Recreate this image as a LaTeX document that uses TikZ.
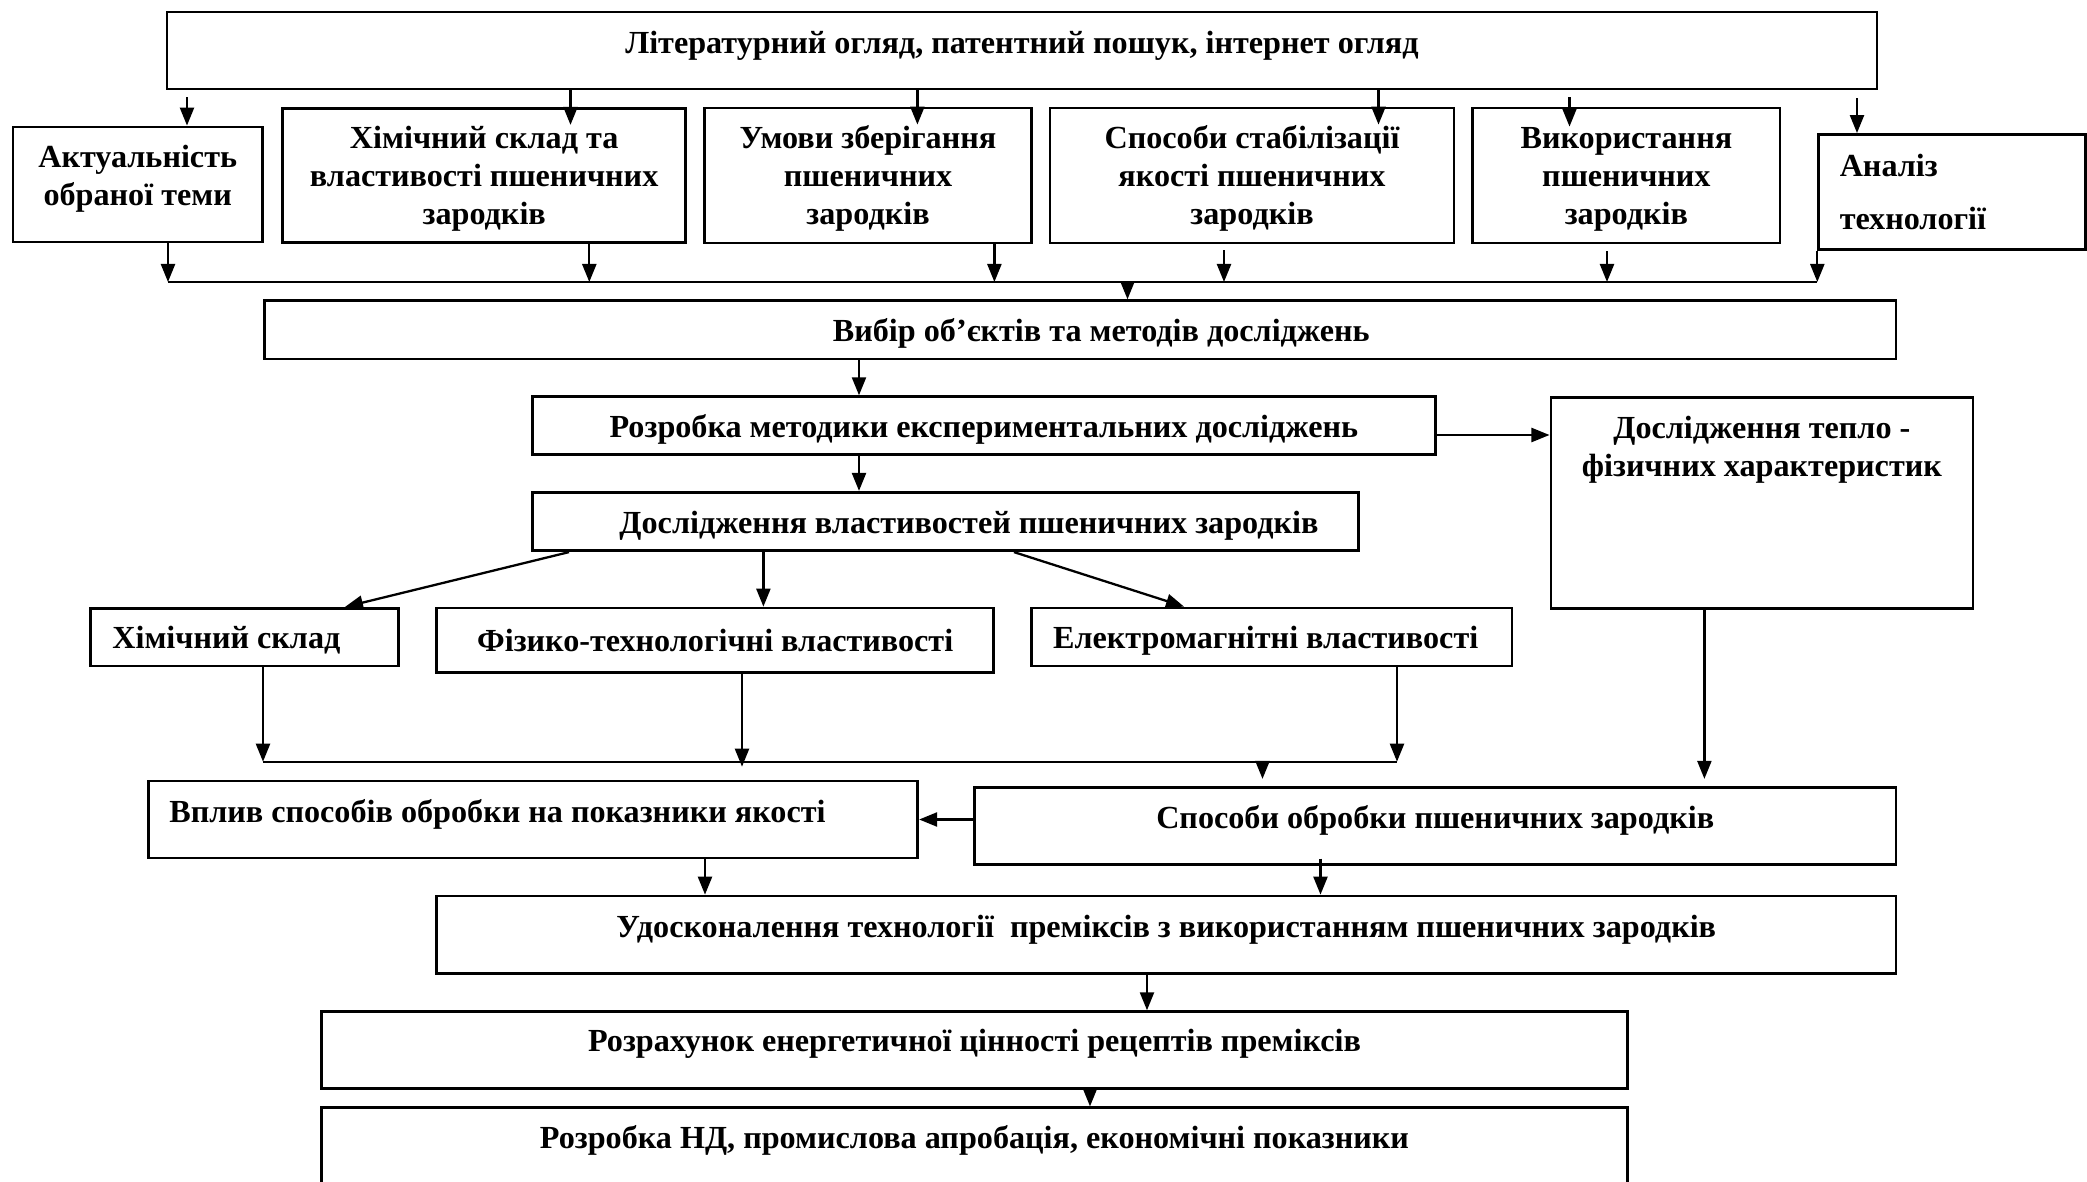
\documentclass[tikz,border=0pt]{standalone}
\usepackage{fontspec}
\setmainfont{Liberation Serif}
\usetikzlibrary{arrows.meta,calc}
\newcommand{\dpad}[1]{\rule[-#1]{0pt}{#1}}
\newcommand{\tpad}[1]{\rule{0pt}{#1}}

\begin{document}
\begin{tikzpicture}[x=0.01cm, y=-0.01cm,
    box/.style={draw, line width=0.8pt, inner sep=0pt, align=center,
      font=\fontsize{9.15}{10.8}\selectfont\bfseries},
    wh/.style 2 args={minimum width=#1*0.01cm, minimum height=#2*0.01cm},
    one/.style={text height=0.30cm, text depth=#1},
    one/.default=0.07cm,
    arr/.style={line width=0.65pt, -{Triangle[length=0.18cm,width=0.14cm]}}]

  \useasboundingbox (0,0) rectangle (2087,1182);
  \clip (0,0) rectangle (2087,1182);

  % Top box
  \node[box, wh={1710}{77}, one=0.24cm] (lit) at (1022,50.5) {Літературний огляд, патентний пошук, інтернет огляд};

  % Second row
  \node[box, wh={249.5}{115}] (act) at (137.7,184.5) {Актуальність\\обраної теми\dpad{0.19cm}};
  \node[box, wh={403}{134}] (chem) at (484.2,175.3) {\tpad{0.29cm}Хімічний склад та\\властивості пшеничних\\зародків};
  \node[box, wh={327}{135}] (umovy) at (868,175.5) {\tpad{0.29cm}Умови зберігання\\пшеничних\\зародків};
  \node[box, wh={404}{135}] (stab) at (1252,175.5) {\tpad{0.29cm}Способи стабілізації\\якості пшеничних\\зародків};
  \node[box, wh={307.3}{135}] (vykor) at (1626.4,175.5) {\tpad{0.29cm}Використання\\пшеничних\\зародків};
  \node[box, align=flush left, text width=2.25cm, inner xsep=0.21cm, minimum height=1.15cm] (analiz) at (1952.3,192) {Аналіз\\[0.145cm]технології};

  % Middle
  \node[box, wh={1631.5}{58.3}, one] (vybir) at (1080.3,329.9) {\hspace*{0.42cm}Вибір об’єктів та методів досліджень};
  \node[box, wh={903}{57.6}, one] (rozrob) at (983.9,425.5) {Розробка методики експериментальних досліджень};
  \node[box, wh={422}{211}] (teplo) at (1761.9,502.8) {Дослідження тепло -\\фізичних характеристик\dpad{1.12cm}};
  \node[box, wh={826}{58.4}, one] (doslid) at (945.5,521.5) {\hspace*{0.47cm}Дослідження властивостей пшеничних зародків};

  \node[box, align=flush left, text width=2.64cm, inner xsep=0.22cm, minimum height=0.577cm, one] (khim) at (244.4,637.2) {Хімічний склад};
  \node[box, wh={557}{64.3}, one] (fiz) at (715.2,640.2) {Фізико-технологічні властивості};
  \node[box, wh={480.7}{58}, one] (elec) at (1271.7,637) {Електромагнітні властивості\hspace*{0.12cm}};

  % Lower part
  \node[box, align=flush left, text width=7.27cm, inner xsep=0.21cm, minimum height=0.77cm, one=0.25cm] (vplyv) at (533,819.5) {Вплив способів обробки на показники якості};
  \node[box, wh={921.6}{77}, one=0.25cm] (sposob) at (1435.2,825.8) {Способи обробки пшеничних зародків};
  \node[box, wh={1459.4}{77.3}, one=0.24cm] (udos) at (1166.3,934.7) {Удосконалення технології\ \ преміксів з використанням пшеничних зародків};
  \node[box, wh={1306.2}{76.6}, one=0.28cm] (rozrah) at (974.5,1050) {Розрахунок енергетичної цінності рецептів преміксів};
  \node[box, wh={1306.2}{77}, one=0.26cm] (nd) at (974.5,1146.3) {Розробка НД, промислова апробація, економічні показники};

  % Arrows from the review
  \draw[arr, shorten <=0.07cm] (187,0 |- lit.south) -- (187,0 |- act.north);
  \draw[arr] (570.5,0 |- lit.south) -- ($(570.5,0 |- chem.north)+(0,18)$);
  \draw[arr] (917.4,0 |- lit.south) -- ($(917.4,0 |- umovy.north)+(0,18)$);
  \draw[arr] (1378.5,0 |- lit.south) -- ($(1378.5,0 |- stab.north)+(0,18)$);
  \draw[arr, shorten <=0.07cm] (1569.5,0 |- lit.south) -- ($(1569.5,0 |- vykor.north)+(0,20)$);
  \draw[arr, shorten <=0.08cm] (1857,0 |- lit.south) -- (1857,0 |- analiz.north);

  % First collecting line
  \coordinate (bw) at (168,282);
  \coordinate (be) at (analiz.south west |- 0,282);
  \draw[line width=0.65pt] (bw) -- (be);
  \draw[arr] (bw |- act.south) -- (bw);
  \draw[arr] (589.3,0 |- chem.south) -- (589.3,0 |- bw);
  \draw[arr] (994.4,0 |- umovy.south) -- (994.4,0 |- bw);
  \draw[arr, shorten <=0.06cm] (1224,0 |- stab.south) -- (1224,0 |- bw);
  \draw[arr, shorten <=0.07cm] (1607,0 |- vykor.south) -- (1607,0 |- bw);
  \draw[arr] (analiz.south west) -- (be);
  \draw[arr] (1127.5,0 |- bw) -- (1127.5,0 |- vybir.north);

  \draw[arr] (859,0 |- vybir.south) -- (859,0 |- rozrob.north);
  \draw[arr] (859,0 |- rozrob.south) -- (859,0 |- doslid.north);
  \draw[arr] (rozrob.east |- 0,435) -- (teplo.west |- 0,435);
  \draw[arr] (569,0 |- doslid.south) -- (345,0 |- khim.north);
  \draw[arr] (763.4,0 |- doslid.south) -- (763.4,0 |- fiz.north);
  \draw[arr] (1014,0 |- doslid.south) -- (1184,0 |- elec.north);

  % Second collecting line
  \coordinate (cw) at (263,761.7);
  \coordinate (ce) at (1397,761.7);
  \draw[line width=0.65pt] (cw) -- (ce);
  \draw[arr] (cw |- khim.south) -- (cw);
  \draw[arr] (742,0 |- fiz.south) -- ($(742,0 |- cw)+(0,5)$);
  \draw[arr] (ce |- elec.south) -- (ce);
  \draw[arr, shorten >=0.07cm] (1262.5,0 |- cw) -- (1262.5,0 |- sposob.north);
  \draw[arr, shorten >=0.07cm] (1704.4,0 |- teplo.south) -- (1704.4,0 |- sposob.north);

  \draw[arr] (sposob.west |- vplyv.east) -- (vplyv.east);
  \draw[arr] (705,0 |- vplyv.south) -- (705,0 |- udos.north);
  \draw[arr] ($(1320.5,0 |- sposob.south)+(0,-7)$) -- (1320.5,0 |- udos.north);
  \draw[arr] (1147,0 |- udos.south) -- (1147,0 |- rozrah.north);
  \draw[arr] (1090,0 |- rozrah.south) -- (1090,0 |- nd.north);

\end{tikzpicture}
\end{document}
